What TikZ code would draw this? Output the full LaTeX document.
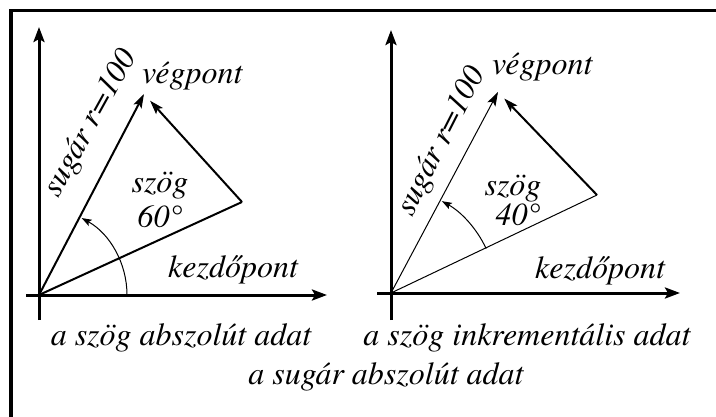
\documentclass[tikz,border=0pt]{standalone}
\usepackage{fontspec}
\newfontfamily\termes[Extension=.otf, UprightFont=*-italic]{texgyretermes}
\usetikzlibrary{arrows.meta, positioning}
\tikzset{
  lbl/.style={font=\termes\fontsize{32}{36}\selectfont, inner sep=0pt},
  frame/.style={line width=3.5pt},
  axis/.style={-{Stealth[length=15pt, width=11pt, inset=3pt]}, line width=3pt},
  vec/.style={-{Stealth[length=14pt, width=9pt, inset=3pt]}, line width=2pt},
  thinvec/.style={-{Stealth[length=14pt, width=9pt, inset=3pt]}, line width=1pt},
  angarc/.style={-{Stealth[length=10pt, width=7pt, inset=2pt]}, line width=1pt},
}
\begin{document}
\begin{tikzpicture}[x=1pt, y=1pt]
  \useasboundingbox (0,0) rectangle (716,416);
  % frame
  \draw[frame] (11,-5) |- (725,405.5);

  % absolute angle
  \coordinate (O1) at (39,121);
  \coordinate (V1) at (144,322);
  \coordinate (K1) at (242,214);
  \draw[axis] ([yshift=-25pt]O1) -- ([yshift=268pt]O1);
  \draw[axis] ([xshift=-13pt]O1) -- ([xshift=288pt]O1);
  \draw[vec] (O1) -- (V1);
  \draw[line width=2pt] (O1) -- (K1);
  \draw[vec, shorten >=9pt] (K1) -- (V1);
  \draw[angarc] ([xshift=88pt]O1) arc[start angle=0, end angle=61, radius=88pt];
  \node[lbl, rotate=61] (sugar1) at (91,292) {sugár r=100};
  \node[lbl, anchor=base west] (veg1) at (142,332) {végpont};
  \node[lbl, anchor=base west] (kezd1) at (168,139) {kezdőpont};
  \node[lbl, anchor=base] (szog1) at (160,223) {szög};
  \node[lbl, anchor=base] (fok1) at (160,189) {60°};

  % incremental angle
  \coordinate (O2) at (391,123);
  \coordinate (V2) at (498,324);
  \coordinate (K2) at (597,221);
  \draw[axis] ([yshift=-27pt]O2) -- ([yshift=263pt]O2);
  \draw[axis] ([xshift=-14pt]O2) -- ([xshift=289pt]O2);
  \draw[thinvec] (O2) -- (V2);
  \draw[line width=1pt] (O2) -- (K2);
  \draw[vec, shorten >=9pt] (K2) -- (V2);
  \draw[angarc] ([shift={(25:105)}]O2) arc[start angle=25, end angle=61, radius=105pt];
  \node[lbl, rotate=63] (sugar2) at (442,274) {sugár r=100};
  \node[lbl, anchor=base west] (veg2) at (492,341) {végpont};
  \node[lbl, anchor=base west] (kezd2) at (535,138) {kezdőpont};
  \node[lbl, anchor=base] (szog2) at (513,221) {szög};
  \node[lbl, anchor=base] (fok2) at (518,191) {40°};

  % captions
  \node[lbl, anchor=base] (absz) at (181,71) {a szög abszolút adat};
  \node[lbl, anchor=base] (inkr) at (527,71) {a szög inkrementális adat};
  \node[lbl, anchor=base] (sugar) at (386,32) {a sugár abszolút adat};
\end{tikzpicture}
\end{document}
